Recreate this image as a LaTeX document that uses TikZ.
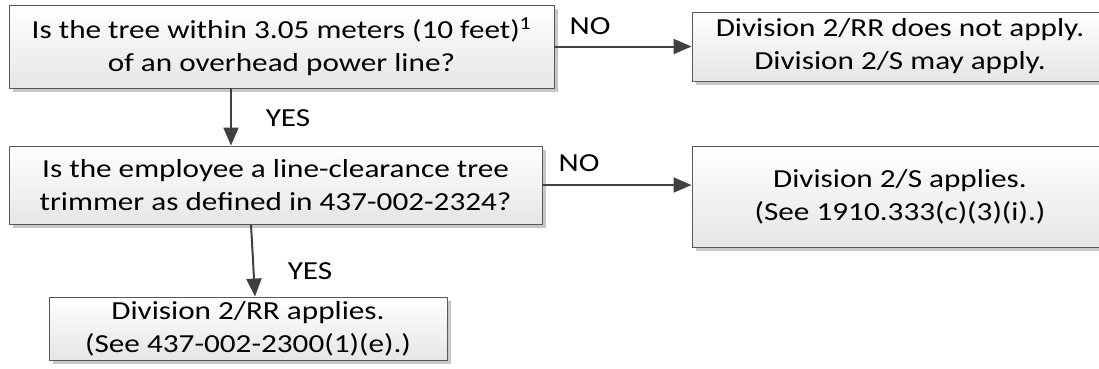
\documentclass[tikz,border=0pt]{standalone}
\usepackage{fontspec}
\setmainfont{Carlito}[FakeStretch=1.2]
\usetikzlibrary{arrows.meta,shadows}

\begin{document}
\begin{tikzpicture}[x=1pt,y=-1pt,
    box/.style={draw=black!65, line width=0.9pt, top color=white, bottom color=black!10,
      align=center, inner sep=0pt, font=\fontsize{26}{33}\selectfont,
      drop shadow={shadow xshift=4pt, shadow yshift=-4pt, fill=black!22, opacity=1}},
    arr/.style={draw=black!75, line width=2pt, -{Triangle[length=18pt,width=15pt]}},
    lbl/.style={font=\fontsize{26}{30}\selectfont}]

  \useasboundingbox (0,0) rectangle (1099,368);

  % questions
  \node[box, minimum width=545pt, minimum height=83pt] (tree) at (281.5,46.5)
    {Is the tree within 3.05 meters (10 feet)\textsuperscript{1}\\ of an overhead power line?};
  \node[box, minimum width=533pt, minimum height=78pt] (trimmer) at (275.5,185)
    {Is the employee a line-clearance tree\\ trimmer as defined in 437-002-2324?};

  % answers
  \node[box, minimum width=416pt, minimum height=69pt] (noapply) at (900,46.5)
    {Division 2/RR does not apply.\\ Division 2/S may apply.};
  \node[box, minimum width=416pt, minimum height=101pt] (sapply) at (900,196.5)
    {Division 2/S applies.\\ (See 1910.333(c)(3)(i).)};
  \node[box, minimum width=398pt, minimum height=63pt] (rrapply) at (248,328.5)
    {Division 2/RR applies.\\ (See 437-002-2300(1)(e).)};

  % connectors
  \draw[arr] (tree.east) -- (tree.east -| noapply.west);
  \draw[arr] ([xshift=-50.5pt]tree.south) -- ([xshift=-50.5pt]tree.south |- trimmer.north);
  \draw[arr] (trimmer.east) -- (trimmer.east -| sapply.west);
  \draw[arr] ([xshift=-24.5pt]trimmer.south) -- ([xshift=7pt]rrapply.north);

  % answer labels
  \node[lbl] (no1) at (590,26) {NO};
  \node[lbl] (yes1) at (288,118) {YES};
  \node[lbl] (no2) at (579,163) {NO};
  \node[lbl] (yes2) at (310,271) {YES};
\end{tikzpicture}
\end{document}
